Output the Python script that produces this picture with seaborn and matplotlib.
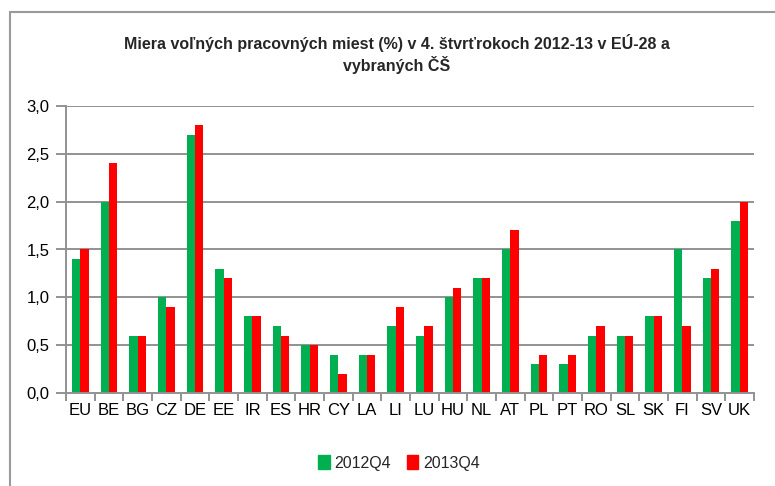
import matplotlib
matplotlib.use("Agg")
import matplotlib.pyplot as plt
import matplotlib.patches as mpatches
from matplotlib.ticker import FixedLocator, FuncFormatter
import seaborn as sns
import pandas as pd

categories = ["EU", "BE", "BG", "CZ", "DE", "EE", "IR", "ES", "HR", "CY", "LA", "LI",
              "LU", "HU", "NL", "AT", "PL", "PT", "RO", "SL", "SK", "FI", "SV", "UK"]
values_2012q4 = [1.4, 2.0, 0.6, 1.0, 2.7, 1.3, 0.8, 0.7, 0.5, 0.4, 0.4, 0.7,
                 0.6, 1.0, 1.2, 1.5, 0.3, 0.3, 0.6, 0.6, 0.8, 1.5, 1.2, 1.8]
values_2013q4 = [1.5, 2.4, 0.6, 0.9, 2.8, 1.2, 0.8, 0.6, 0.5, 0.2, 0.4, 0.9,
                 0.7, 1.1, 1.2, 1.7, 0.4, 0.4, 0.7, 0.6, 0.8, 0.7, 1.3, 2.0]
series_names = ["2012Q4", "2013Q4"]
y_ticks = [0.0, 0.5, 1.0, 1.5, 2.0, 2.5, 3.0]
title = "Miera voľných pracovných miest (%) v 4. štvrťrokoch 2012-13 v EÚ-28 a\nvybraných ČŠ"

df = pd.DataFrame({
    "country": categories * 2,
    "value": values_2012q4 + values_2013q4,
    "series": [series_names[0]] * len(categories) + [series_names[1]] * len(categories),
})

sns.set_theme(style="white")
plt.rcParams["font.family"] = ["Liberation Sans", "DejaVu Sans"]

fig = plt.figure(figsize=(7.75, 4.86), dpi=100)
ax = fig.add_axes([66 / 775, 1 - 393 / 486, (754 - 66) / 775, (393 - 106) / 486])

palette = {"2012Q4": "#00B050", "2013Q4": "#FF0000"}
sns.barplot(data=df, x="country", y="value", hue="series", order=categories,
            hue_order=series_names, palette=palette, width=0.58, gap=0,
            saturation=1, ax=ax, legend=False, edgecolor="none", linewidth=0)

ax.set_xlim(-0.5, len(categories) - 0.5)
ax.set_ylim(0, 3.0)
ax.set_xlabel("")
ax.set_ylabel("")

grid_col = "#929292"
ax.yaxis.set_major_locator(FixedLocator(y_ticks))
ax.yaxis.set_major_formatter(FuncFormatter(lambda v, p: f"{v:.1f}".replace(".", ",")))
for y in y_ticks[1:]:
    ax.axhline(y, color=grid_col, lw=1.4, zorder=0)

for s in ["top", "right"]:
    ax.spines[s].set_visible(False)
for s in ["left", "bottom"]:
    ax.spines[s].set_color(grid_col)
    ax.spines[s].set_linewidth(1.4)
ax.spines["left"].set_zorder(5)
ax.spines["bottom"].set_zorder(5)

ax.tick_params(axis="y", which="major", direction="out", length=7, width=1.4,
               color=grid_col, labelsize=12, pad=5, left=True, labelcolor="black")
ax.tick_params(axis="x", which="major", length=0, labelsize=12, pad=7, labelcolor="black")
ax.xaxis.set_minor_locator(FixedLocator([i - 0.5 for i in range(len(categories) + 1)]))
ax.tick_params(axis="x", which="minor", direction="out", length=6, width=1.4,
               color=grid_col, bottom=True)

fig.text(0.512, 1 - 54 / 486, title, ha="center", va="center", fontsize=11.5,
         fontweight="bold", linespacing=1.25)

handles = [mpatches.Patch(color=palette[s], label=s) for s in series_names]
fig.legend(handles=handles, loc="center", bbox_to_anchor=(0.515, 1 - 463 / 486),
           ncol=2, frameon=False, fontsize=11.5, handlelength=0.7, handleheight=0.9,
           handletextpad=0.3, columnspacing=1.0)

# partial outer frame (left and top edges visible)
fig.patches.append(mpatches.Rectangle((10 / 775, -0.1), 1.2, 1 - 12 / 486 + 0.1,
                                      transform=fig.transFigure, fill=False,
                                      edgecolor="#9a9a9a", lw=1.5))

fig.savefig("out.png", dpi=100)
